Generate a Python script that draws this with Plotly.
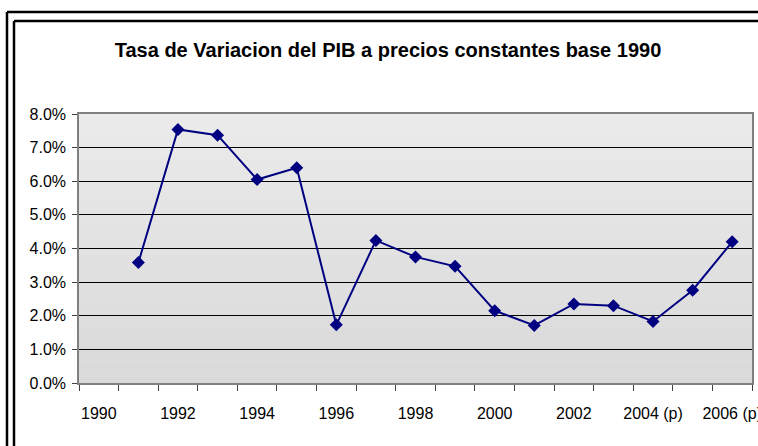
import plotly.graph_objects as go

title = "Tasa de Variacion del PIB a precios constantes base 1990"
categories = ["1990", "1991", "1992", "1993", "1994", "1995", "1996", "1997", "1998",
              "1999", "2000", "2001", "2002", "2003", "2004 (p)", "2005 (p)", "2006 (p)"]
growth_pct = [None, 3.58, 7.54, 7.37, 6.05, 6.40, 1.73, 4.24, 3.75,
              3.47, 2.15, 1.71, 2.35, 2.30, 1.83, 2.76, 4.20]
x_tick_labels = [c if i % 2 == 0 else "" for i, c in enumerate(categories)]
y_ticks = [0, 1, 2, 3, 4, 5, 6, 7, 8]
y_tick_labels = ["0.0%", "1.0%", "2.0%", "3.0%", "4.0%", "5.0%", "6.0%", "7.0%", "8.0%"]

W, H = 758, 446
L, R, T, B = 79, 6, 114, 63
pw, ph = W - L - R, H - T - B

def px(x):
    return (x - L) / pw

def py(y):
    return (H - B - y) / ph

FONT = "Liberation Sans, Arial, sans-serif"

fig = go.Figure()
fig.add_trace(go.Scatter(
    x=categories, y=growth_pct, mode="lines+markers",
    line=dict(color="#000080", width=2),
    marker=dict(symbol="diamond", size=10, color="#000080"),
    connectgaps=False, showlegend=False, hoverinfo="x+y",
))

shapes = []
n = 40
top_c, bot_c = (0xEB, 0xEB, 0xEB), (0xD9, 0xD9, 0xD9)
for i in range(n):
    t = (i + 0.5) / n
    c = tuple(round(top_c[k] + (bot_c[k] - top_c[k]) * t) for k in range(3))
    shapes.append(dict(type="rect", xref="x domain", yref="y domain",
                       x0=0, x1=1, y0=1 - (i + 1) / n, y1=1 - i / n,
                       fillcolor="rgb(%d,%d,%d)" % c, line=dict(width=0), layer="below"))
for fx, fy in [(7, 12), (14, 21)]:
    shapes.append(dict(type="line", xref="paper", yref="paper",
                       x0=px(fx), x1=px(W + 5), y0=py(fy), y1=py(fy),
                       line=dict(color="black", width=2.5)))
    shapes.append(dict(type="line", xref="paper", yref="paper",
                       x0=px(fx), x1=px(fx), y0=py(fy), y1=py(H + 5),
                       line=dict(color="black", width=2.5)))

fig.update_layout(
    width=W, height=H,
    margin=dict(l=L, r=R, t=T, b=B),
    paper_bgcolor="white",
    plot_bgcolor="#e3e3e3",
    shapes=shapes,
    title=dict(text="<b>" + title + "</b>", xref="container", x=388 / W, xanchor="center",
               yref="container", y=1 - 50 / H, yanchor="middle",
               font=dict(family=FONT, size=20, color="black")),
    font=dict(family=FONT, size=16, color="black"),
    xaxis=dict(
        type="category", categoryorder="array", categoryarray=categories,
        tickvals=categories, ticktext=x_tick_labels, tickson="boundaries",
        ticks="outside", ticklen=6, tickcolor="#404040", tickwidth=1,
        ticklabelstandoff=15,
        showgrid=False, showline=True, linecolor="#808080", linewidth=1.5,
        mirror=True, range=[-0.5, len(categories) - 0.5],
        tickangle=0, automargin=False, fixedrange=True,
    ),
    yaxis=dict(
        range=[0, 8], tickvals=y_ticks, ticktext=y_tick_labels,
        ticks="outside", ticklen=5, tickcolor="#404040",
        ticklabelstandoff=3,
        showgrid=True, gridcolor="black", gridwidth=1, zeroline=False,
        showline=True, linecolor="#808080", linewidth=1.5, mirror=True,
        automargin=False, fixedrange=True,
    ),
)

fig.write_html("out.html", config={"displayModeBar": False},
               post_script="document.body.style.margin='0';document.body.style.overflow='hidden';")
